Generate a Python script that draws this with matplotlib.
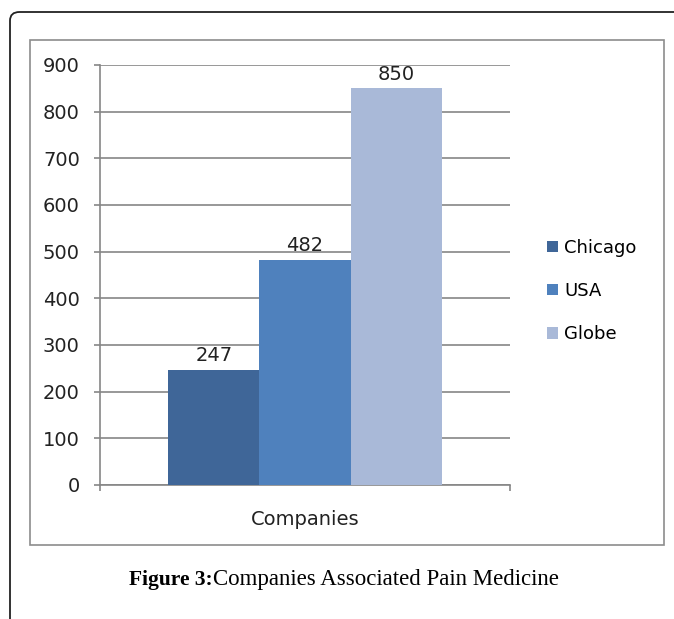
import matplotlib.pyplot as plt
from matplotlib.patches import FancyBboxPatch, Rectangle

W, H = 674, 619

series = ['Chicago', 'USA', 'Globe']
values = [247, 482, 850]
colors = ['#3F6698', '#4F81BD', '#A9B9D8']
category = 'Companies'
yticks = [0, 100, 200, 300, 400, 500, 600, 700, 800, 900]

fig = plt.figure(figsize=(W / 100, H / 100), dpi=100)


def fx(px):
    return px / W


def fy(py):
    return 1 - py / H


# outer rounded frame (cut at right/bottom edges)
outer = FancyBboxPatch((fx(10), fy(640)), fx(700) - fx(10), fy(12) - fy(640),
                       boxstyle='round,pad=0,rounding_size=0.014',
                       transform=fig.transFigure, fill=False,
                       edgecolor='#222222', linewidth=1.3, clip_on=False)
fig.patches.append(outer)

# chart frame
frame = Rectangle((fx(30), fy(545)), fx(664) - fx(30), fy(40) - fy(545),
                  transform=fig.transFigure, fill=False,
                  edgecolor='#8c8c8c', linewidth=1.2)
fig.patches.append(frame)

ax = fig.add_axes([fx(100), fy(485), fx(510) - fx(100), fy(65) - fy(485)])
ax.set_xlim(-0.5, 0.5)
ax.set_ylim(0, 900)

fs = 14
bw = 0.222
for i, (name, v, c) in enumerate(zip(series, values, colors)):
    x = (i - 1) * bw
    ax.bar(x, v, width=bw, color=c, label=name, zorder=3)
    ax.text(x, v + 10, str(v), ha='center', va='bottom', fontsize=fs,
            color='#222222', zorder=4)

ax.set_yticks(yticks)
ax.tick_params(axis='y', labelsize=fs, colors='#868686', labelcolor='#222222',
               length=4.5, width=1.2, pad=10)
ax.yaxis.grid(True, color='#868686', linewidth=1.2, zorder=0)
ax.set_xticks([-0.5, 0.5])
ax.set_xticklabels([])
ax.tick_params(axis='x', colors='#868686', length=4.5, width=1.2)
ax.text(0, -0.06, category, transform=ax.get_xaxis_transform(),
        ha='center', va='top', fontsize=fs, color='#222222')

for s in ['top', 'right']:
    ax.spines[s].set_visible(False)
for s in ['left', 'bottom']:
    ax.spines[s].set_color('#868686')
    ax.spines[s].set_linewidth(1.2)

ax.legend(loc='center left', bbox_to_anchor=(fx(547), fy(291)),
          bbox_transform=fig.transFigure, frameon=False, fontsize=13,
          handlelength=0.6, handleheight=0.6, handletextpad=0.35,
          labelspacing=1.4, borderaxespad=0, borderpad=0)

fig.text(fx(213), fy(580), 'Figure 3:', ha='right', va='center',
         family='Liberation Serif', fontweight='bold', fontsize=15.5)
fig.text(fx(213), fy(580), 'Companies Associated Pain Medicine', ha='left',
         va='center', family='Liberation Serif', fontsize=16.5)

fig.savefig('out.png', dpi=100)
